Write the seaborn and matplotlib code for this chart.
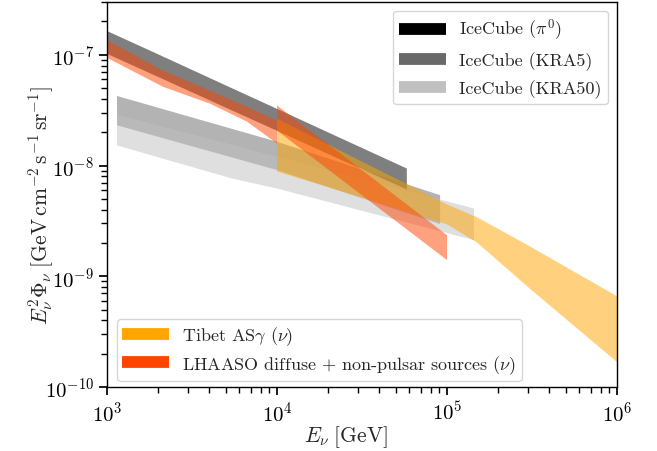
import numpy as np
import pandas as pd
import matplotlib
matplotlib.use("Agg")
import matplotlib.pyplot as plt
from matplotlib.lines import Line2D
import seaborn as sns

# ---------------- data ----------------
E_pi0 = [1e3, 2e3, 5e3, 1e4, 2e4, 5.8e4]
pi0_lo = [1.02e-7, 6.31e-8, 3.33e-8, 2.06e-8, 1.27e-8, 6.08e-9]
pi0_hi = [1.64e-7, 1.01e-7, 5.29e-8, 3.25e-8, 1.99e-8, 9.4e-9]

E_kra5 = [1.145e3, 1e4, 9.1e4]
kra5_lo = [2.31e-8, 9.1e-9, 2.96e-9]
kra5_hi = [4.25e-8, 1.64e-8, 5.4e-9]

E_kra50 = [1.145e3, 5.43e3, 1e4, 1.44e5]
kra50_lo = [1.52e-8, 7.64e-9, 6.2e-9, 2.12e-9]
kra50_hi = [2.88e-8, 1.54e-8, 1.2e-8, 4.1e-9]

E_tibet = [1e4, 3e4, 1e5, 1.5e5, 3e5, 1e6]
tibet_lo = [8.83e-9, 5.26e-9, 2.94e-9, 2.02e-9, 7.96e-10, 1.68e-10]
tibet_hi = [2.65e-8, 1.13e-8, 4.46e-9, 3.41e-9, 1.90e-9, 6.6e-10]

E_lh_a = [1e3, 2.13e3, 4.04e3, 6.66e3, 1e4]
lh_a_lo = [9.4e-8, 5.15e-8, 3.62e-8, 2.49e-8, 1.58e-8]
lh_a_hi = [1.36e-7, 7.22e-8, 4.76e-8, 3.4e-8, 2.54e-8]

E_lh_b = [1e4, 3e4, 1e5]
lh_b_lo = [2.07e-8, 5.73e-9, 1.40e-9]
lh_b_hi = [3.49e-8, 9.66e-9, 2.35e-9]

labels = [r"IceCube ($\pi^0$)", "IceCube (KRA5)", "IceCube (KRA50)",
          r"Tibet AS$\gamma$ ($\nu$)", r"LHAASO diffuse + non-pulsar sources ($\nu$)"]
colors = ["black", "dimgray", "silver", "orange", "orangered"]

# ---------------- style ----------------
sns.set_theme(style="ticks")
plt.rcParams.update({
    "font.family": "serif",
    "font.serif": ["cmr10", "DejaVu Serif"],
    "mathtext.fontset": "cm",
    "axes.formatter.use_mathtext": True,
    "axes.unicode_minus": False,
    "axes.edgecolor": "black",
    "axes.linewidth": 1.0,
    "xtick.color": "black",
    "ytick.color": "black",
})

fig = plt.figure(figsize=(6.57, 4.52), dpi=100)
ax = fig.add_axes([0.1629, 0.1416, 0.7763, 0.8518])
ax.set_xscale("log")
ax.set_yscale("log")


def band(E, lo, hi, color):
    df = pd.DataFrame({"E": list(E) + list(E), "flux": list(lo) + list(hi)})
    sns.lineplot(data=df, x="E", y="flux", ax=ax, errorbar=("pi", 100),
                 color=color, linewidth=0, legend=False,
                 err_kws=dict(alpha=0.5, linewidth=0, edgecolor="none"))


band(E_pi0, pi0_lo, pi0_hi, colors[0])
band(E_kra5, kra5_lo, kra5_hi, colors[1])
band(E_kra50, kra50_lo, kra50_hi, colors[2])
band(E_tibet, tibet_lo, tibet_hi, colors[3])
band(E_lh_a, lh_a_lo, lh_a_hi, colors[4])
band(E_lh_b, lh_b_lo, lh_b_hi, colors[4])

ax.set_xlim(1e3, 1e6)
ax.set_ylim(1e-10, 3e-7)
ax.set_xlabel(r"$E_\nu\;[\mathrm{GeV}]$", fontsize=15.5)
ax.set_ylabel(r"$E_\nu^2\Phi_\nu\;[\mathrm{GeV\,cm^{-2}\,s^{-1}\,sr^{-1}}]$", fontsize=15.5)
ax.xaxis.set_label_coords(0.468, -0.093)
ax.yaxis.set_label_coords(-0.100, 0.473)
ax.tick_params(axis="both", which="major", labelsize=15)

h_ice = [Line2D([], [], color=c, lw=8.5, solid_capstyle="butt") for c in colors[:3]]
h_gam = [Line2D([], [], color=c, lw=8.5, solid_capstyle="butt") for c in colors[3:]]
leg1 = ax.legend(h_ice, labels[:3], loc="upper right", fontsize=13,
                 handlelength=2.6, handletextpad=0.7, borderaxespad=0,
                 borderpad=0.35, bbox_to_anchor=(0.982, 0.977), frameon=True)
ax.add_artist(leg1)
ax.legend(h_gam, labels[3:], loc="lower left", fontsize=13,
          handlelength=2.6, handletextpad=0.7, labelspacing=0.3,
          borderpad=0.3, borderaxespad=0, bbox_to_anchor=(0.0196, 0.0156),
          frameon=True)

fig.savefig("out.png", dpi=100)
